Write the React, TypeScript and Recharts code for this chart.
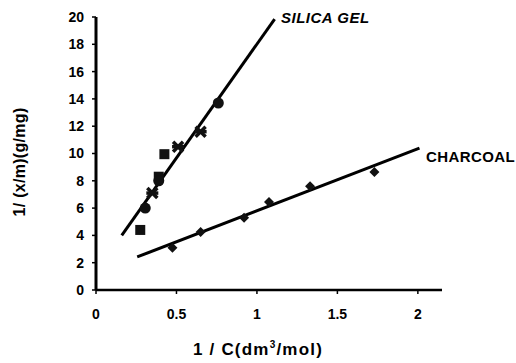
import { ComposedChart, Line, Scatter, XAxis, YAxis } from "recharts";

// silica gel points, split by marker
const silicaSquares = [
  { x: 0.275, y: 4.4 },
  { x: 0.39, y: 8.3 },
  { x: 0.425, y: 9.95 },
];
const silicaCircles = [
  { x: 0.306, y: 6.0 },
  { x: 0.39, y: 8.0 },
  { x: 0.76, y: 13.7 },
];
const silicaStars = [
  { x: 0.35, y: 7.1 },
  { x: 0.51, y: 10.5 },
  { x: 0.65, y: 11.6 },
];
const charcoalPoints = [
  { x: 0.475, y: 3.1 },
  { x: 0.65, y: 4.25 },
  { x: 0.92, y: 5.3 },
  { x: 1.075, y: 6.45 },
  { x: 1.33, y: 7.6 },
  { x: 1.73, y: 8.65 },
];

// fitted lines
const silicaFit = [
  { x: 0.16, y: 4.0 },
  { x: 1.11, y: 19.85 },
];
const charcoalFit = [
  { x: 0.256, y: 2.42 },
  { x: 2.01, y: 10.4 },
];

const xTicks = [0, 0.5, 1, 1.5, 2];
const yTicks = [0, 2, 4, 6, 8, 10, 12, 14, 16, 18, 20];

const FONT = "'Liberation Sans', Arial, sans-serif";
const tickStyle = { fontSize: 14, fontWeight: 700, fill: "#000", fontFamily: FONT };

// eslint-disable-next-line @typescript-eslint/no-explicit-any
const Square = ({ cx, cy }: any) => <rect x={cx - 5} y={cy - 5} width={10} height={10} fill="#111" />;
// eslint-disable-next-line @typescript-eslint/no-explicit-any
const Circle = ({ cx, cy }: any) => <circle cx={cx} cy={cy} r={5.5} fill="#111" />;
// eslint-disable-next-line @typescript-eslint/no-explicit-any
const Star = ({ cx, cy }: any) => (
  <g stroke="#111" strokeWidth={3.5}>
    <line x1={cx - 5} y1={cy - 5} x2={cx + 5} y2={cy + 5} />
    <line x1={cx - 5} y1={cy + 5} x2={cx + 5} y2={cy - 5} />
    <line x1={cx - 6} y1={cy} x2={cx + 6} y2={cy} />
  </g>
);
// eslint-disable-next-line @typescript-eslint/no-explicit-any
const Diamond = ({ cx, cy }: any) => (
  <polygon points={`${cx},${cy - 5} ${cx + 5},${cy} ${cx},${cy + 5} ${cx - 5},${cy}`} fill="#111" />
);

export default function App() {
  return (
    <div style={{ position: "absolute", left: 0, top: 0, width: 516, height: 363, background: "#fff", fontFamily: FONT }}>
      <ComposedChart width={516} height={363} margin={{ top: 17, right: 74, bottom: 43, left: 46 }}>
        <XAxis
          type="number"
          dataKey="x"
          domain={[0, 2.15]}
          ticks={xTicks}
          tick={tickStyle}
          tickSize={4}
          tickMargin={15}
          axisLine={{ stroke: "#000", strokeWidth: 2.5 }}
          tickLine={{ stroke: "#000", strokeWidth: 1.5 }}
          allowDataOverflow
        />
        <YAxis
          type="number"
          dataKey="y"
          domain={[0, 20]}
          ticks={yTicks}
          tick={tickStyle}
          tickSize={4}
          tickMargin={8}
          width={50}
          axisLine={{ stroke: "#000", strokeWidth: 3 }}
          tickLine={{ stroke: "#000", strokeWidth: 1.5 }}
        />
        <Line data={silicaFit} dataKey="y" stroke="#000" strokeWidth={3} dot={false} isAnimationActive={false} />
        <Line data={charcoalFit} dataKey="y" stroke="#000" strokeWidth={3} dot={false} isAnimationActive={false} />
        <Scatter data={silicaSquares} shape={<Square />} isAnimationActive={false} />
        <Scatter data={silicaCircles} shape={<Circle />} isAnimationActive={false} />
        <Scatter data={silicaStars} shape={<Star />} isAnimationActive={false} />
        <Scatter data={charcoalPoints} shape={<Diamond />} isAnimationActive={false} />
      </ComposedChart>
      <div
        style={{ position: "absolute", left: 281, top: 9, fontSize: 15, fontWeight: 700, fontStyle: "italic", letterSpacing: 0.5 }}
      >
        SILICA GEL
      </div>
      <div style={{ position: "absolute", left: 426, top: 148, fontSize: 15, fontWeight: 700, letterSpacing: 0.4 }}>
        CHARCOAL
      </div>
      <div
        style={{
          position: "absolute",
          left: 0,
          top: 339,
          width: 516,
          textAlign: "center",
          fontSize: 17,
          fontWeight: 700,
          letterSpacing: 1.2,
        }}
      >
        1 / C(dm<sup style={{ fontSize: 10 }}>3</sup>/mol)
      </div>
      <div
        style={{
          position: "absolute",
          left: 20,
          top: 162,
          transform: "translate(-50%, -50%) rotate(-90deg)",
          whiteSpace: "nowrap",
          fontSize: 16,
          fontWeight: 700,
          letterSpacing: 0.3,
        }}
      >
        1/ (x/m)(g/mg)
      </div>
    </div>
  );
}
